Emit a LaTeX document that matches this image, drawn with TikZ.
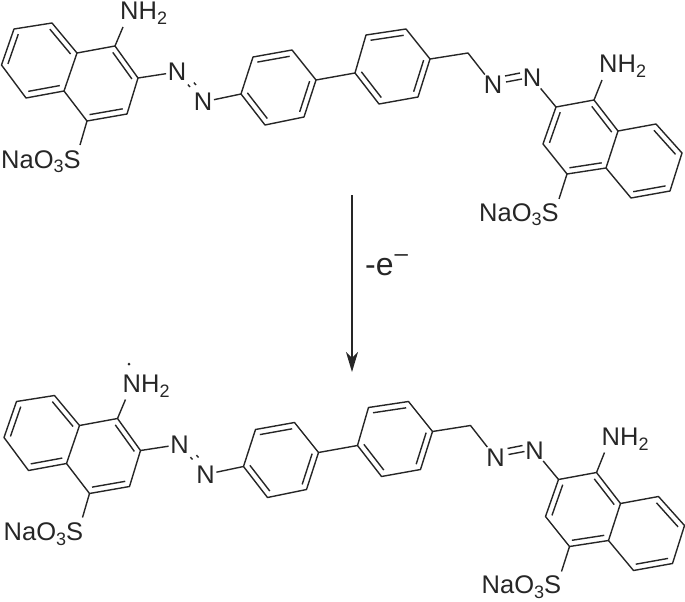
\documentclass[tikz,border=0pt]{standalone}
\usepackage{fontspec}
\setmainfont{Liberation Sans}
\usetikzlibrary{calc,arrows.meta}

\newcommand{\subnum}[1]{\raisebox{-4.5pt}{\fontsize{18}{18}\selectfont #1}}

\tikzset{
  atom/.style={inner sep=1.5pt, text=black!85, font=\fontsize{25.5}{27}\selectfont},
  label atom/.style={atom, inner sep=0pt, anchor=base west},
  bond/.style={line width=1.4pt, black!85, line join=round},
  dye/.pic={
    % atom positions
    \foreach \n/\x/\y in {a1/1.5/65, a2/14/29, a3/52/23, j1/77/53, j2/64/91, a6/26/98,
      b1/115/46, b2/138/78, b3/127/114, b4/87/121,
      c1/241/94, c2/253/57, c3/292/50, c4/316/80, c5/304/117, c6/265/125,
      d1/355/73, d2/366/35, d3/406/29, d4/430/59, d5/418/97, d6/379/104,
      e1/556/107, e2/594/100, e3/618/131, e4/606/168, e5/567/174, e6/543/144,
      f1/656/124, f2/682/153, f3/670/191, f4/631/198,
      ch/468/53, ln/123/27, ls/80/145, rn/602/80, rs/559/199} {
      \coordinate (\n) at (\x,\y);
    }
    \coordinate (cena) at ($(a1)!.5!(j1)$);
    \coordinate (cenb) at ($(j1)!.5!(b3)$);
    \coordinate (cenc) at ($(c1)!.5!(c4)$);
    \coordinate (cend) at ($(d1)!.5!(d4)$);
    \coordinate (cene) at ($(e1)!.5!(e4)$);
    \coordinate (cenf) at ($(e3)!.5!(f3)$);

    % rings
    \draw[bond] (a1) -- (a2) -- (a3) -- (j1) -- (j2) -- (a6) -- cycle;
    \draw[bond] (j1) -- (b1) -- (b2) -- (b3) -- (b4) -- (j2);
    \draw[bond] (c1) -- (c2) -- (c3) -- (c4) -- (c5) -- (c6) -- cycle;
    \draw[bond] (d1) -- (d2) -- (d3) -- (d4) -- (d5) -- (d6) -- cycle;
    \draw[bond] (e1) -- (e2) -- (e3) -- (e4) -- (e5) -- (e6) -- cycle;
    \draw[bond] (e3) -- (f1) -- (f2) -- (f3) -- (f4) -- (e4);
    \draw[bond] (c4) -- (d1);

    % inner lines of the double bonds
    \foreach \p/\q/\c in {a1/a2/cena, a3/j1/cena, j2/a6/cena, b1/b2/cenb, b3/b4/cenb,
      c2/c3/cenc, c4/c5/cenc, c6/c1/cenc, d2/d3/cend, d4/d5/cend, d6/d1/cend,
      e1/e6/cene, e2/e3/cene, e4/e5/cene, f1/f2/cenf, f3/f4/cenf} {
      \draw[bond] ($(\p)!.17!(\c)$) -- ($(\q)!.17!(\c)$);
    }

    % azo groups
    \node[atom] (nA) at (177,72) {N};
    \node[atom] (nB) at (203,102) {N};
    \node[atom] (nC) at (493,85) {N};
    \node[atom] (nD) at (532,78) {N};
    \draw[bond] (b2) -- (nA);
    \draw[bond] (nB) -- (c1);
    \draw[bond] (d4) -- (ch) -- (nC);
    \draw[bond] (nD) -- (e1);
    \draw[bond] ($(nA)!.42!(nB)$) -- ($(nA)!.5!(nB)$);
    \draw[bond] ($(nA)!.42!(nB)+(6,-2)$) -- ($(nA)!.5!(nB)+(6,-2)$);
    \draw[bond] (505,76) -- (520,73);
    \draw[bond] (506,82) -- (522,79);

    % substituents
    \draw[bond] (b1) -- (ln);
    \draw[bond] (b4) -- (ls);
    \draw[bond] (e2) -- (rn);
    \draw[bond] (e5) -- (rs);
    \node[label atom] (amL) at (120,20) {NH\subnum{2}};
    \node[label atom] (sulL) at (1,168) {NaO\subnum{3}S};
    \node[label atom] (amR) at (599,73) {NH\subnum{2}};
    \node[label atom] (sulR) at (479,221) {NaO\subnum{3}S};
  }
}

\begin{document}
\begin{tikzpicture}[x=1pt, y=-1pt]
  \useasboundingbox (0,0) rectangle (685,602);

  % starting dye
  \pic (top-) at (0,0) {dye};

  % oxidation step
  \coordinate (stepA) at (352,195);
  \coordinate (stepB) at (352,372);
  \draw[bond, -{Stealth[length=20pt, width=12pt, inset=6pt]}] (stepA) -- (stepB);
  \node[atom, anchor=base west, inner sep=0pt, font=\fontsize{32}{34}\selectfont] (lost) at (365,275)
    {-e\kern1pt\raisebox{.42em}{\fontsize{24}{24}\selectfont –}};

  % radical dye
  \pic (bot-) at (2.5,372.5) {dye};
  \node[circle, fill=black!85, inner sep=0pt, minimum size=3pt] (radical) at (129,364) {};
\end{tikzpicture}
\end{document}
